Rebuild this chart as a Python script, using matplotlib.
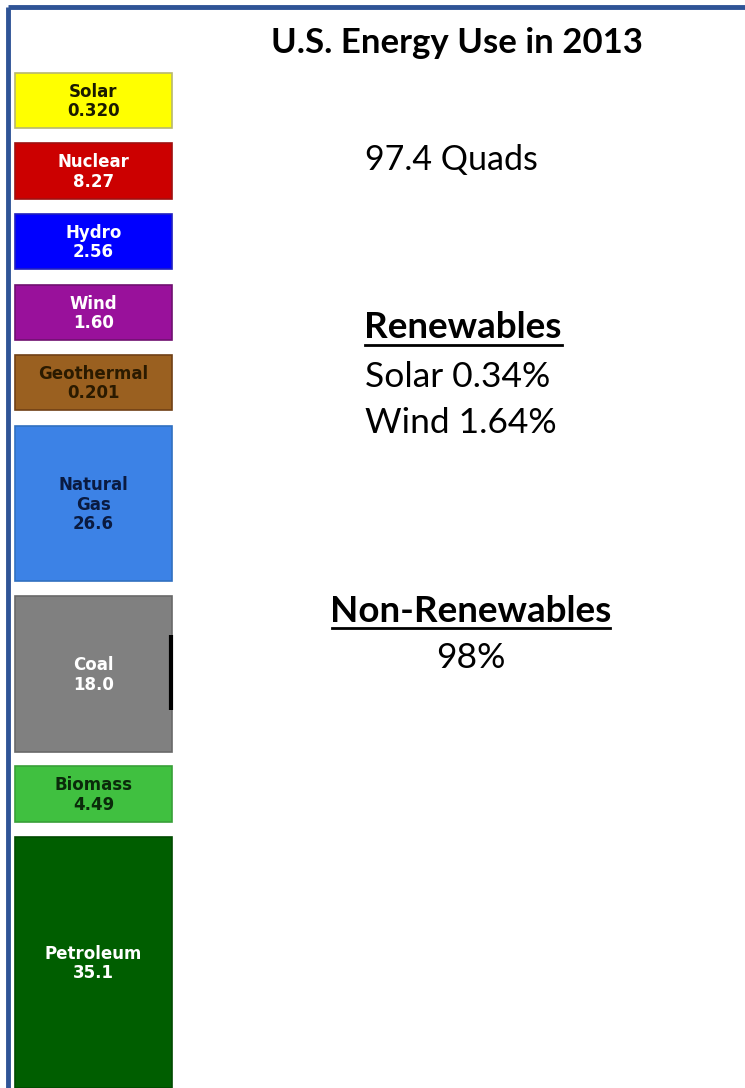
"""U.S. energy use in 2013 - source boxes with summary text."""
import matplotlib.pyplot as plt
import matplotlib as mpl

mpl.rcParams.update({
    "font.family": "DejaVu Sans",
    "figure.dpi": 100,
})

# data
sources = ["Solar", "Nuclear", "Hydro", "Wind", "Geothermal",
           "Natural\nGas", "Coal", "Biomass", "Petroleum"]
values = ["0.320", "8.27", "2.56", "1.60", "0.201", "26.6", "18.0", "4.49", "35.1"]
total_quads = 97.4
renew_labels = ["Solar 0.34%", "Wind 1.64%"]
nonrenew_pct = "98%"

# layout (pixel coords, y down)
box_top = [73, 143, 214, 285, 355, 426, 596, 766, 837]
box_h = [55, 56, 55, 55, 55, 155, 156, 56, 251]
box_colors = ["#ffff00", "#cc0000", "#0000ff", "#99119b", "#9a6020",
              "#3c82e6", "#808080", "#40c040", "#005e00"]
text_colors = ["#1a1a00", "white", "white", "white", "#2a1a00",
               "#0a1a40", "white", "#0a2a0a", "white"]
edge_colors = ["#b8b870", "#a01010", "#2020c0", "#701070", "#704015",
               "#3070c0", "#686868", "#38a038", "#004a00"]
BORDER = "#2f5496"

W, H = 745, 1088
fig = plt.figure(figsize=(W / 100, H / 100))
ax = fig.add_axes([0, 0, 1, 1])
ax.set_xlim(0, W)
ax.set_ylim(H, 0)
ax.axis("off")

# frame lines (top + left only)
ax.plot([8, W], [7, 7], color=BORDER, lw=3.5, solid_capstyle="butt")
ax.plot([8, 8], [7, H], color=BORDER, lw=3.5, solid_capstyle="butt")

x0, x1 = 15, 172
ax.bar([(x0 + x1) / 2] * len(sources), box_h, bottom=box_top, width=x1 - x0,
       color=box_colors, edgecolor=edge_colors, linewidth=1.2)
# little flow stub on the coal box
ax.plot([171, 171], [635, 710], color="black", lw=3, solid_capstyle="butt")

for name, val, top, h, tc in zip(sources, values, box_top, box_h, text_colors):
    ax.text((x0 + x1) / 2, top + h / 2 + 1, f"{name}\n{val}", ha="center",
            va="center", fontsize=12, fontweight="bold", color=tc,
            linespacing=1.1)

# right-hand text
ax.text(457, 53, "U.S. Energy Use in 2013", ha="center", va="baseline",
        fontsize=25, fontweight="bold", family="Lato")
ax.text(451, 170, f"{total_quads} Quads", ha="center", va="baseline",
        fontsize=24.5, family="Lato")

ax.text(463, 338, "Renewables", ha="center", va="baseline",
        fontsize=26.5, fontweight="bold", family="Lato")
ax.plot([365, 562], [345, 345], color="black", lw=2)
for lab, yb in zip(renew_labels, [387, 433]):
    ax.text(365, yb, lab, ha="left", va="baseline", fontsize=25.5, family="Lato")

ax.text(471, 622, "Non-Renewables", ha="center", va="baseline",
        fontsize=26.5, fontweight="bold", family="Lato")
ax.plot([332, 610], [628, 628], color="black", lw=2)
ax.text(471, 668, nonrenew_pct, ha="center", va="baseline",
        fontsize=25.5, family="Lato")

fig.savefig("out.png", dpi=100)
plt.close(fig)
